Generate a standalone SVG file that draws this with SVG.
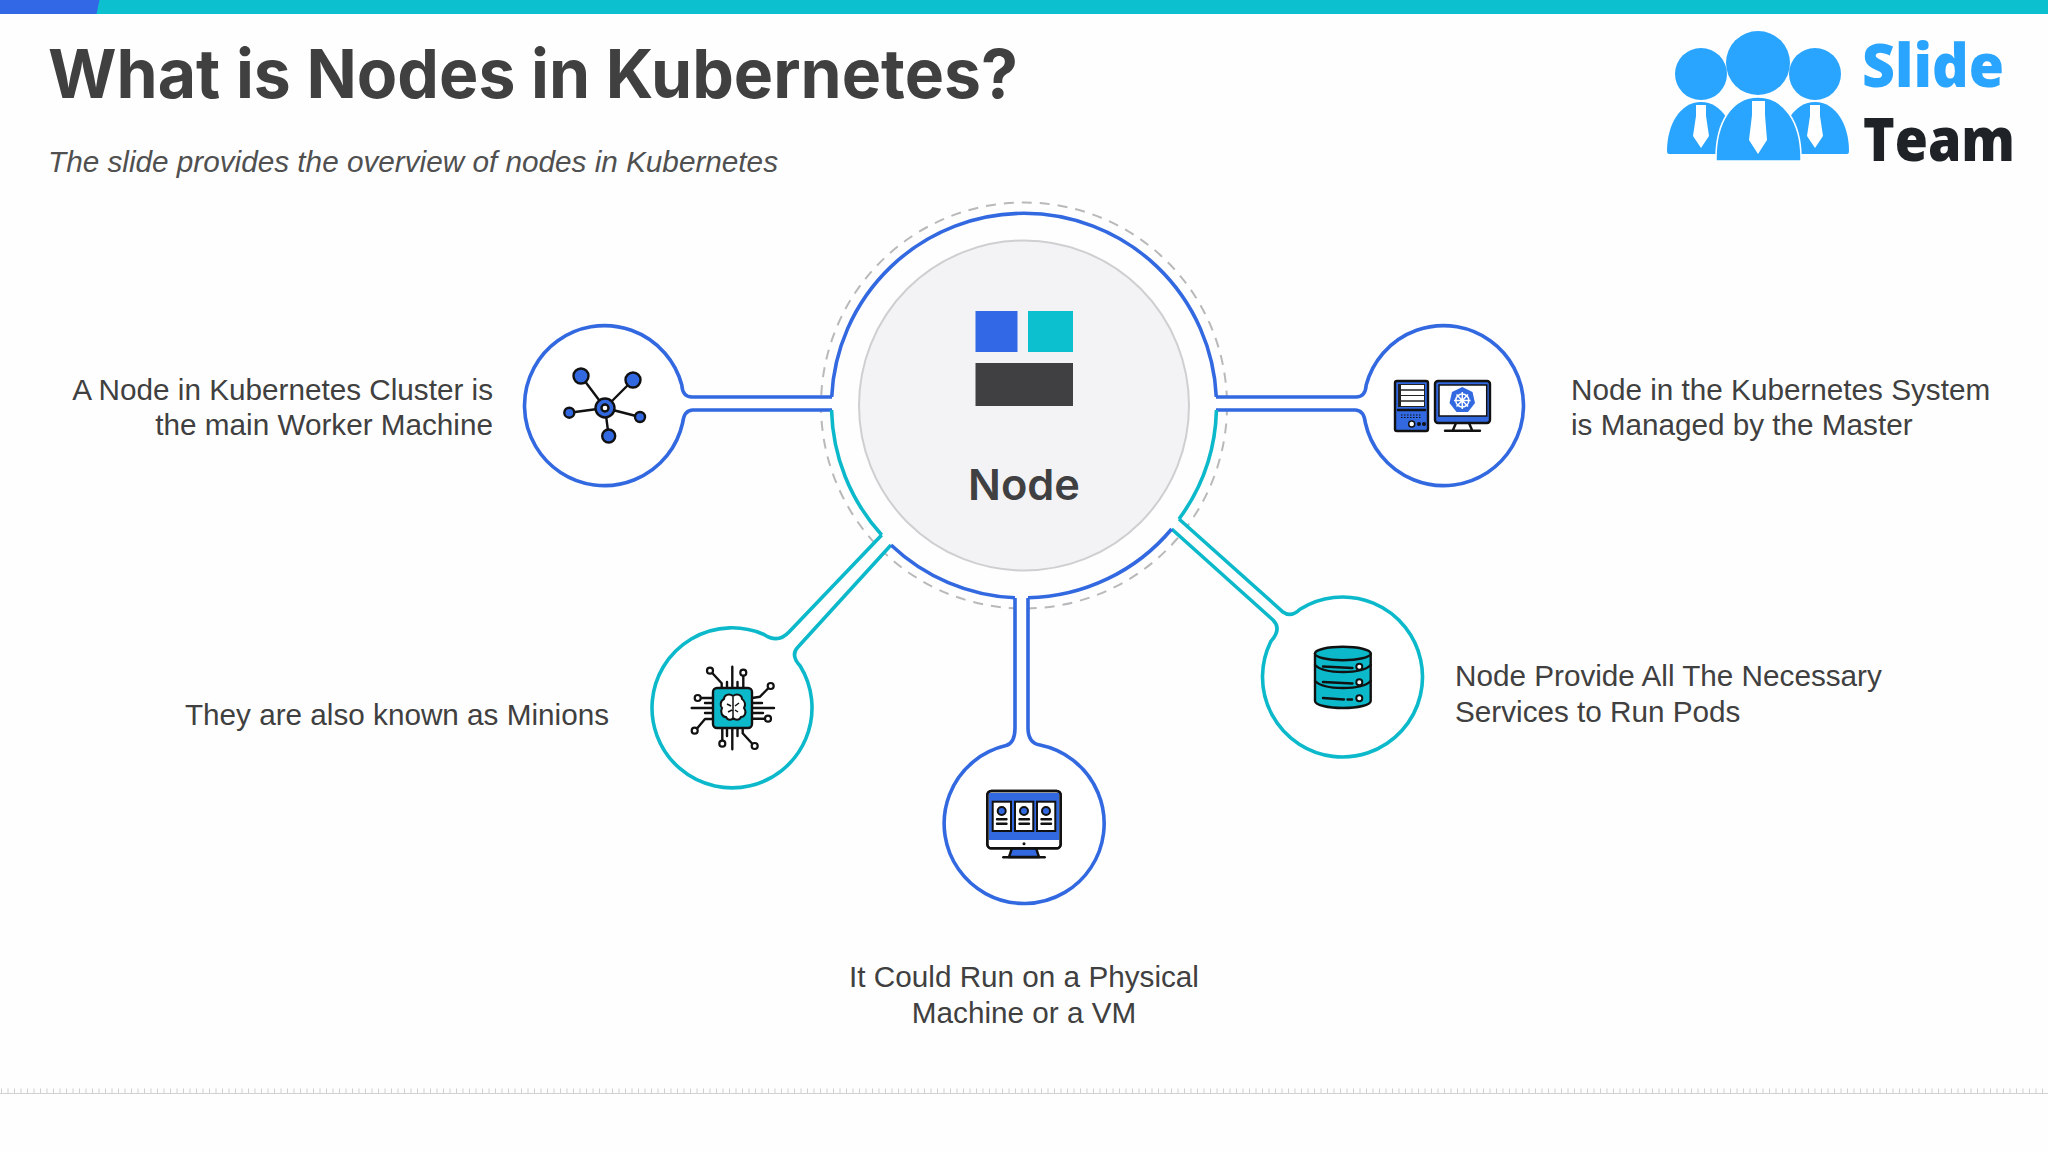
<svg xmlns="http://www.w3.org/2000/svg" width="2048" height="1152" viewBox="0 0 2048 1152">
<style>
.t{font-family:"Liberation Sans",Arial,sans-serif;font-size:29.700px;fill:#404040}
.e{text-anchor:end}.m{text-anchor:middle}
.ln{fill:#fff;stroke-width:3.600}
.b{stroke:#3268e0}.g{stroke:#0cb9cb}
.k{stroke:#111;stroke-width:2.400;fill:none;stroke-linecap:round;stroke-linejoin:round}
.fb{fill:#3268e0}.fg{fill:#0cb9cb}.fw{fill:#fff}
.ks{stroke:#111;stroke-width:2.400;stroke-linejoin:round}
</style>
<rect width="2048" height="1152" fill="#fefefe"/>
<rect width="2048" height="14" fill="#0cc0d0"/>
<polygon points="0,0 99.500,0 96.500,14 0,14" fill="#3268e6"/>
<text x="48" y="98" font-family="Inter,sans-serif" font-weight="700" font-size="68" fill="#404040" textLength="970" lengthAdjust="spacingAndGlyphs">What is Nodes in Kubernetes?</text>
<text x="48" y="172" font-family="'Liberation Sans',Arial,sans-serif" font-style="italic" font-size="30" fill="#505050" textLength="730" lengthAdjust="spacingAndGlyphs">The slide provides the overview of nodes in Kubernetes</text>

<g id="logo">
<circle cx="1701" cy="74" r="26" fill="#2aa5ff"/><circle cx="1815" cy="74" r="26" fill="#2aa5ff"/><circle cx="1758" cy="63" r="32" fill="#2aa5ff"/>
<path d="M1667,151C1667,125 1680,102 1701,102C1722,102 1735,125 1735,151V154H1669Q1667,154 1667,151Z" fill="#2aa5ff"/>
<path d="M1849,151C1849,125 1836,102 1815,102C1794,102 1781,125 1781,151V154H1847Q1849,154 1849,151Z" fill="#2aa5ff"/>
<path d="M1716,158C1716,122 1732,97 1758,97C1784,97 1801,122 1801,158V161H1716Z" fill="#2aa5ff" stroke="#fff" stroke-width="1.500"/>
<path d="M1752,101H1765V115L1767,140L1758,154L1749,140L1752,115Z" fill="#fff"/>
<path d="M1696,105H1706V116L1709,136L1701,148L1693,136L1696,116Z" fill="#fff"/>
<path d="M1810,105H1820V116L1823,136L1815,148L1807,136L1810,116Z" fill="#fff"/>
<text x="1862" y="87" font-family="'Open Sans',sans-serif" font-weight="800" font-size="60" fill="#2aa5ff" textLength="142" lengthAdjust="spacingAndGlyphs">Slide</text>
<text x="1863" y="161" font-family="'Open Sans',sans-serif" font-weight="800" font-size="60" fill="#1f2328" textLength="152" lengthAdjust="spacingAndGlyphs">Team</text>
</g>

<circle cx="1024" cy="405.500" r="203" fill="none" stroke="#b9b9bb" stroke-width="2" stroke-dasharray="10 8"/>

<g id="connectors" fill="none" stroke-width="3.600">
<path class="ln b" d="M832,397H692Q682.500,397 681.800,385A80,80 0 1 0 682.600,423Q684,410 693,410H832"/>
<path class="ln b" d="M1216,397H1356Q1365.500,397 1366.200,385A80,80 0 1 1 1365.400,423Q1364,410 1355,410H1216"/>
<path class="ln b" d="M1015,598V728Q1015,743 1006,745.600A80,80 0 1 0 1040,745.100Q1028,743 1028,728V598"/>
<path class="ln g" d="M881.700,535L789,632Q778,644 764,634.500A80,80 0 1 0 800.200,666Q790,655 798,647L891,545"/>
<path class="ln g" d="M1179,519L1283,612Q1291,618 1300,609.200A80,80 0 1 1 1271,641.100Q1282,629 1273,620L1171.700,529"/>
<path class="b" d="M831.700,397A192.500,192.500 0 0 1 1216.300,397"/>
<path class="g" d="M831.550,410A192.500,192.500 0 0 0 881.700,535"/>
<path class="g" d="M1216.450,410A192.500,192.500 0 0 1 1179,519"/>
<path class="b" d="M891,545A192.500,192.500 0 0 0 1015,597.800"/>
<path class="b" d="M1171.700,529A192.500,192.500 0 0 1 1028,597.800"/>
</g>

<g id="center-node">
<circle cx="1024" cy="405.500" r="165" fill="#f3f3f5" stroke="#cfcfd2" stroke-width="2"/>
<rect x="975.500" y="311" width="42" height="41" fill="#3268e6"/>
<rect x="1028" y="311" width="45" height="41" fill="#0cc0d0"/>
<rect x="975.500" y="363" width="97.500" height="43" fill="#404042"/>
<text x="968" y="500" font-family="Inter,sans-serif" font-weight="600" font-size="43" fill="#404042" textLength="112" lengthAdjust="spacingAndGlyphs">Node</text>
</g>

<g id="node-worker">
<g class="k"><path d="M605,408L581,376M605,408L633,380M605,408L569.300,412.700M605,408L640,417M605,408L608.700,436"/></g>
<circle cx="581" cy="376" r="7.500" class="fb ks"/><circle cx="633" cy="380" r="7.500" class="fb ks"/><circle cx="569.300" cy="412.700" r="5" class="fb ks"/><circle cx="640" cy="417" r="5" class="fb ks"/><circle cx="608.700" cy="436" r="6.500" class="fb ks"/>
<circle cx="605" cy="408" r="9.500" class="fb ks"/><circle cx="605" cy="408" r="3.500" class="fw ks" stroke-width="1.500"/>
<text class="t e" x="493" y="400">A Node in Kubernetes Cluster is</text>
<text class="t e" x="493" y="435">the main Worker Machine</text>
</g>

<g id="node-managed">
<rect x="1395" y="381" width="33" height="50" rx="2" class="fb ks"/>
<rect x="1398" y="384" width="27" height="23" fill="#222"/>
<path class="fw" d="M1401,385h23v4.300h-23zM1401,390.700h23v4.300h-23zM1401,396h23v4.300h-23zM1401,401.700h23v4.300h-23z"/>
<path class="k" d="M1398,410H1425"/>
<path d="M1401,415H1422M1401,417.500H1422" stroke="#111" stroke-width="1.200" stroke-dasharray="1.500 1.500" fill="none"/>
<circle cx="1411.700" cy="424" r="3" class="fw" stroke="#111" stroke-width="1.500"/><circle cx="1419" cy="424" r="2" fill="#111"/><circle cx="1424" cy="424" r="2" fill="#111"/>
<rect x="1435" y="381" width="55" height="42" rx="3" class="fb ks"/>
<rect x="1439" y="385" width="47.700" height="31" fill="#fff" stroke="#111" stroke-width="1.500"/>
<path class="k" d="M1456,423L1453,430M1469,423L1472,430M1445,430.700H1480"/>
<polygon points="1462.300,387 1472.500,392 1475,403 1468,412 1456.500,412 1449.500,403 1452,392" class="fb"/>
<g stroke="#fff" stroke-width="1.500" fill="none"><circle cx="1462.300" cy="400.500" r="6.500"/><path d="M1462.300,392V409M1454,400.500H1470.500M1456.500,394.500L1468,406.500M1468,394.500L1456.500,406.500"/></g>
<text class="t" x="1571" y="400">Node in the Kubernetes System</text>
<text class="t" x="1571" y="435">is Managed by the Master</text>
</g>

<g id="node-minions">
<g class="k">
<path d="M732.300,666.700V688M732.300,728V749.300M691.700,708H713M752,708H774"/>
<path d="M727,682V688M737.500,682V688M727,728V736M737.500,728V736M705,703H713M705,713H713M752,703H762M752,713H763"/>
<path d="M712,672.700L721.700,683.300V688M743.300,675.700V688M768.500,688L760,696.700L752,698M765,718.700H752M700.700,698H713M697,728.500L705,719H713M722.300,740.700V728M752.500,744L742.700,733.300V728"/>
</g>
<g fill="#fff" stroke="#111" stroke-width="2.200"><circle cx="710" cy="670.700" r="3"/><circle cx="743.300" cy="672.700" r="3"/><circle cx="770.700" cy="686" r="3"/><circle cx="768" cy="718.700" r="3"/><circle cx="697.700" cy="698" r="3"/><circle cx="694.700" cy="730.700" r="3"/><circle cx="722.300" cy="743.700" r="3"/><circle cx="754.700" cy="746" r="3"/></g>
<rect x="713" y="688" width="39" height="40" rx="4" class="fg ks"/>
<path d="M733,696C729,693 724,695 724,699C720,701 720,706 722,708C720,712 722,717 726,717C728,721 732,720 733,718C735,720 739,721 741,717C745,717 747,712 744,708C746,705 745,701 742,699C742,695 737,693 733,696Z" fill="#fff" stroke="#111" stroke-width="2"/>
<path d="M733,697V717M727,704L731,706M728,712L732,710M739,703L735,706M738,712L735,710" stroke="#111" stroke-width="1.500" fill="none"/>
<text class="t e" x="609" y="725">They are also known as Minions</text>
</g>

<g id="node-physical">
<path d="M1012,848H1036L1039,857H1009Z" class="fb ks"/>
<path class="k" d="M1003.300,857.300H1044.700"/>
<rect x="987.300" y="791" width="73.400" height="57.300" rx="4" class="fw ks"/>
<path d="M989,793H1059V840H989Z" class="fb"/>
<path d="M987.300,795a4,4 0 0 1 4,-4h65.400a4,4 0 0 1 4,4v49.300a4,4 0 0 1 -4,4h-65.400a4,4 0 0 1 -4,-4z" fill="none" stroke="#111" stroke-width="2.400"/>
<g fill="#fff" stroke="#111" stroke-width="2"><rect x="992.700" y="801.700" width="18.300" height="29.300"/><rect x="1015" y="801.700" width="18.300" height="29.300"/><rect x="1037" y="801.700" width="18.300" height="29.300"/></g>
<g class="fb" stroke="#111" stroke-width="2"><circle cx="1001.700" cy="811" r="4"/><circle cx="1024" cy="811" r="4"/><circle cx="1046" cy="811" r="4"/></g>
<path class="k" d="M997,819.300H1006.500M997,823.700H1006.500M1019.500,819.300H1029M1019.500,823.700H1029M1041.500,819.300H1051M1041.500,823.700H1051"/>
<circle cx="1024" cy="843.700" r="1.500" fill="#111"/>
<text class="t m" x="1024" y="987">It Could Run on a Physical</text>
<text class="t m" x="1024" y="1023">Machine or a VM</text>
</g>

<g id="node-services">
<path d="M1315,653.500V701C1315,705 1328,708 1343,708C1358,708 1370.700,705 1370.700,701V653.500Z" class="fg ks"/>
<ellipse cx="1342.800" cy="653.500" rx="27.900" ry="6.700" class="fg ks"/>
<path class="k" d="M1315,665C1320,670 1332,672 1343,672C1355,672 1366,670 1370.700,665M1315,681C1320,686 1332,688 1343,688C1355,688 1366,686 1370.700,681"/>
<path class="k" d="M1323,666.500L1352.500,668M1323,682L1352.500,683.500M1323,698L1344,699.500M1347.500,699.500H1352"/>
<g fill="#fff" stroke="#111" stroke-width="2"><circle cx="1359.300" cy="666.700" r="3"/><circle cx="1359.300" cy="682.300" r="3"/><circle cx="1359.300" cy="698.300" r="3"/></g>
<text class="t" x="1455" y="686">Node Provide All The Necessary</text>
<text class="t" x="1455" y="722">Services to Run Pods</text>
</g>

<line x1="0" y1="1093.500" x2="2048" y2="1093.500" stroke="#d2d2d2" stroke-width="1"/>
<line x1="1" y1="1091" x2="2048" y2="1091" stroke="#cfcfcf" stroke-width="5" stroke-dasharray="1 5.500"/>
</svg>
